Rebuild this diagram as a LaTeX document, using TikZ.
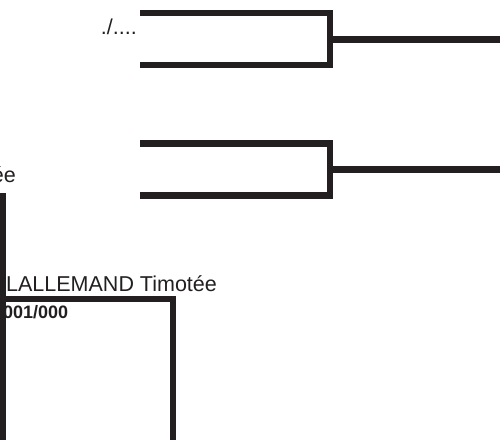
\documentclass[tikz,border=0pt]{standalone}
\usepackage{fontspec}
\setmainfont{Liberation Sans}
\usetikzlibrary{positioning, calc}
\definecolor{ink}{HTML}{231F20}

\begin{document}
\begin{tikzpicture}[x=1pt, y=-1pt,
    bracket/.style={draw=ink, line width=6.5pt, line join=miter},
    player/.style={inner sep=0pt, text=ink, font=\fontsize{21.5}{24}\selectfont},
    score/.style={inner sep=0pt, text=ink, font=\bfseries\fontsize{18}{21}\selectfont}
  ]
    \useasboundingbox (0,0) rectangle (500,440);

    \node[player, anchor=base east] (date) at (137,34) {./....};
    \node[player, anchor=base east] (prev) at (16,182.5) {ée};
    \node[player, anchor=base west] (name) at (6,291.5) {LALLEMAND Timotée};
    \node[score, anchor=base west] (code) at (3,318) {001/000};

    \coordinate (m1top) at (140,12.8);
    \coordinate (m1bot) at (140,65);
    \coordinate (m1join) at (330,39.3);
    \coordinate (m1out) at (500,39.3);
    \coordinate (m2top) at (140,143.3);
    \coordinate (m2bot) at (140,195.7);
    \coordinate (m2join) at (330,169.5);
    \coordinate (m2out) at (500,169.5);

    \coordinate (lefttop) at (3,193.3);
    \coordinate (leftbot) at (3,440);
    \coordinate (nameleft) at (0,299);
    \coordinate (namebot) at (173,440);

    \draw[bracket] (m1top) -| (m1join) |- (m1bot);
    \draw[bracket] (m1join) -- (m1out);
    \draw[bracket] (m2top) -| (m2join) |- (m2bot);
    \draw[bracket] (m2join) -- (m2out);

    \draw[bracket] (lefttop) -- (leftbot);
    \draw[bracket] (nameleft) -| (namebot);
  \end{tikzpicture}
\end{document}
